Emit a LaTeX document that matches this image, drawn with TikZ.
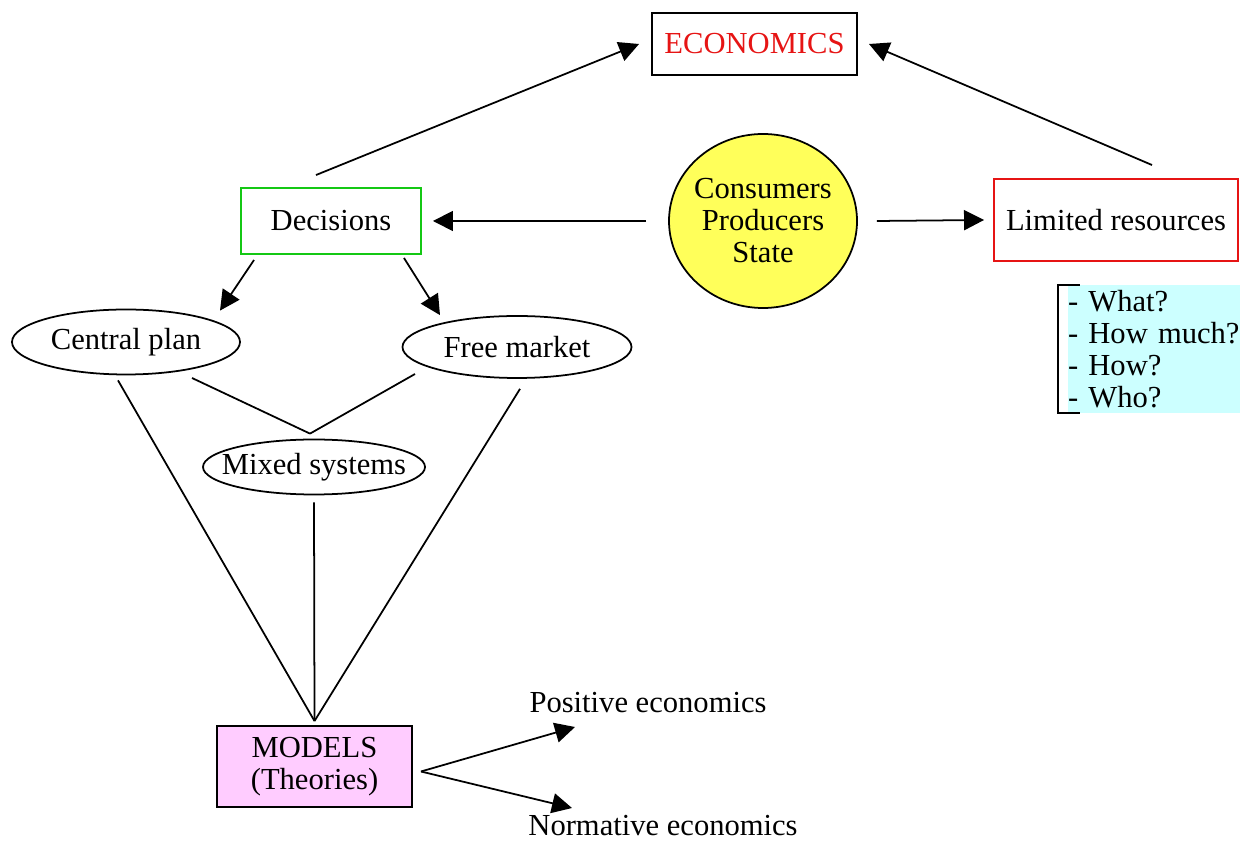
\documentclass[tikz,border=0pt]{standalone}
\usepackage{fontspec}
\setmainfont{Liberation Serif}
\usepackage{tikz}
\usetikzlibrary{arrows.meta, shapes.geometric, calc}

\definecolor{econred}{RGB}{230,20,20}
\definecolor{decgreen}{RGB}{20,200,20}
\definecolor{agentyellow}{RGB}{255,255,90}
\definecolor{modelpink}{RGB}{255,204,255}
\definecolor{listcyan}{RGB}{204,255,255}

% text that does not widen its ellipse
\newcommand{\zw}[1]{\makebox[0pt]{#1}}

\begin{document}
\begin{tikzpicture}[
    >={Triangle[length=4mm, width=4mm]},
    every node/.style={font=\fontsize{17.4}{18.2}\selectfont},
    box/.style={draw, line width=1.1pt, align=center, inner sep=2pt},
    system/.style={draw, ellipse, line width=1pt, inner sep=0pt},
    arr/.style={->, line width=1pt},
    link/.style={line width=1pt}
]
\useasboundingbox (0,0) rectangle (25.04,16.86);

\node[box, text=econred, minimum width=41mm, minimum height=12.4mm] (econ) at (15.09,15.98) {ECONOMICS};
\node[box, draw=decgreen, minimum width=36mm, minimum height=13.2mm] (decide) at (6.62,12.44) {Decisions};
\node[box, draw=econred, minimum width=48.8mm, minimum height=16.4mm] (limits) at (22.32,12.46) {Limited resources};
\node[system, fill=agentyellow, align=center, inner sep=-2pt, minimum width=37.6mm, minimum height=34.8mm] (agents) at (15.26,12.44) {Consumers\\Producers\\State};

\node[fill=listcyan, inner xsep=0pt, inner ysep=0pt, text width=34.4mm, align=left, minimum height=25.6mm] (questions) at (23.08,9.88) {- What?\\- How much?\\- How?\\- Who?};
\draw[line width=1.1pt] ([xshift=2.4mm]questions.north west) -| ([xshift=-2mm]questions.south west) -- ([xshift=2.4mm]questions.south west);

\node[system, minimum width=45.6mm, minimum height=13mm] (central) at (2.52,10.02) {\zw{Central plan}};
\node[system, minimum width=45.8mm, minimum height=12.4mm] (market) at (10.34,9.92) {\zw{Free market}};
\node[system, minimum width=44.4mm, minimum height=11mm] (mixed) at (6.28,7.52) {\zw{Mixed systems}};

\node[box, fill=modelpink, minimum width=39mm, minimum height=16.2mm] (models) at (6.29,1.53) {MODELS\\(Theories)};
\node (positive) at (12.96,2.80) {Positive economics};
\node (normative) at (13.26,0.34) {Normative economics};

% arrows up to economics
\draw[arr] ([shift={(-0.3,0.24)}]decide.north) -- ([xshift=-2.4mm]econ.west);
\draw[arr] ([shift={(0.72,0.26)}]limits.north) -- ([xshift=2.2mm]econ.east);

% agents
\draw[arr] ([xshift=-4.4mm]agents.west) -- ([xshift=2.2mm]decide.east);
\draw[arr] ([xshift=3.8mm]agents.east) -- ([xshift=-1.8mm]limits.west);

% decisions split
\draw[arr] ([shift={(0.28,-0.1)}]decide.south west) -- ([shift={(1.88,-0.04)}]central.north);
\draw[arr] ([shift={(-0.36,-0.06)}]decide.south east) -- ([shift={(-1.54,0)}]market.north);

\coordinate (join) at ([shift={(-0.08,0.1)}]mixed.north);
\draw[link] ([shift={(1.32,-0.72)}]central.center) -- (join);
\draw[link] ([shift={(-2.04,-0.54)}]market.center) -- (join);

\coordinate (top) at ([yshift=0.08cm]models.north);
\draw[link] ([shift={(-0.16,-0.1)}]central.south) -- (top);
\draw[link] ([shift={(0.06,-0.2)}]market.south) -- (top);
\draw[link] ([yshift=-0.14cm]mixed.south) -- (top);

\coordinate (fork) at ([shift={(0.16,-0.1)}]models.east);
\draw[arr] (fork) -- ([shift={(-1.46,-0.48)}]positive.center);
\draw[arr] (fork) -- ([shift={(-1.82,0.36)}]normative.center);

\end{tikzpicture}
\end{document}
